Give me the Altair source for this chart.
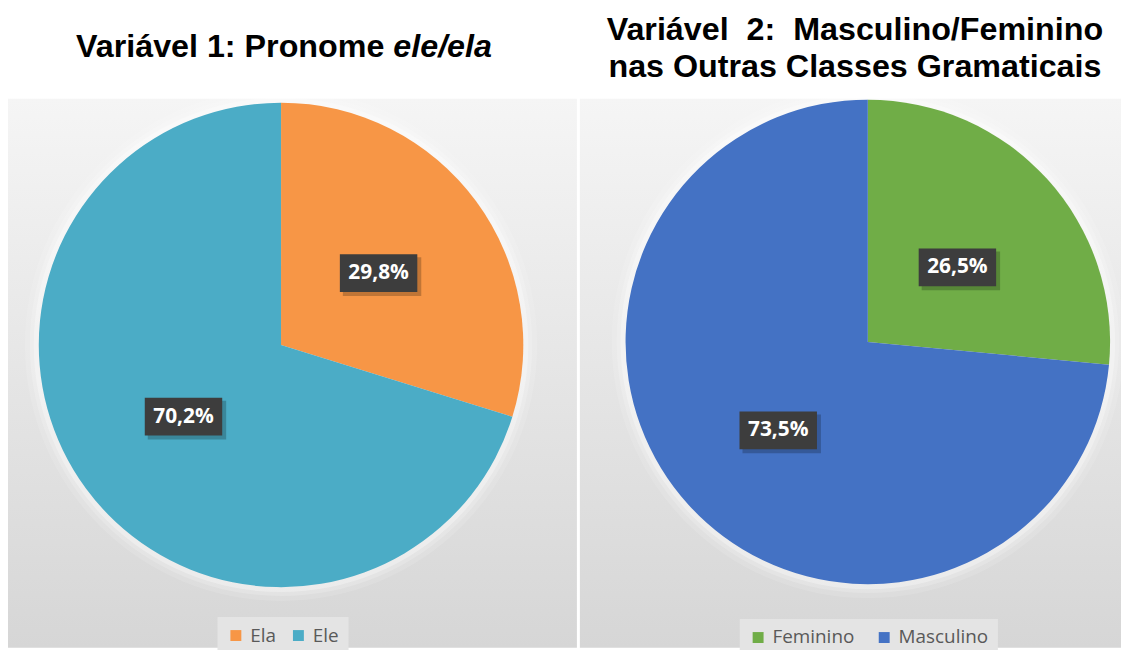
import altair as alt
import pandas as pd
import numpy as np

# ---------------- data ----------------
left_cats = ["Ela", "Ele"]
left_vals = [29.8, 70.2]
left_labels = ["29,8%", "70,2%"]
left_colors = ["#F79646", "#4BACC6"]

right_cats = ["Feminino", "Masculino"]
right_vals = [26.5, 73.5]
right_labels = ["26,5%", "73,5%"]
right_colors = ["#70AD47", "#4472C4"]

title_left_main = "Variável 1: Pronome"
title_left_italic = "ele/ela"
title_right = ["Variável\u00a0 2:\u00a0 Masculino/Feminino", "nas Outras Classes Gramaticais"]

# ---------------- layout ----------------
W, H = 1121, 642
R_PIE = 244
L_CX, L_CY = 275, 337
R_CX, R_CY = 866, 334
R_LABEL_DY = 7
LABEL_FRAC = 0.5
BOX_W, BOX_H = 78, 38
TITLE_SIZE = 32.5


def pie_df(cats, vals, labels, cx, cy):
    v = np.array(vals, dtype=float)
    start = np.concatenate([[0.0], np.cumsum(v)[:-1]])
    mid = (start + v / 2) / v.sum() * 2 * np.pi
    r = R_PIE * LABEL_FRAC
    return pd.DataFrame({
        "cat": cats,
        "value": vals,
        "label": labels,
        "ord": list(range(len(cats))),
        "lx": cx + r * np.sin(mid),
        "ly": cy - r * np.cos(mid),
    })


dfL = pie_df(left_cats, left_vals, left_labels, L_CX, L_CY)
dfR = pie_df(right_cats, right_vals, right_labels, R_CX, R_CY + R_LABEL_DY)
dummy = pd.DataFrame({"d": [0]})

grad = alt.LinearGradient(
    gradient="linear",
    stops=[alt.GradientStop(color="#f5f5f5", offset=0),
           alt.GradientStop(color="#d6d6d6", offset=1)],
    x1=0, x2=0, y1=0, y2=1,
)

panelL = alt.Chart(dummy).mark_rect(fill=grad).encode(
    x=alt.value(0), x2=alt.value(573), y=alt.value(89), y2=alt.value(H))
panelR = alt.Chart(dummy).mark_rect(fill=grad).encode(
    x=alt.value(576), x2=alt.value(W), y=alt.value(89), y2=alt.value(H))


def glow(cx, cy):
    layers = []
    for extra, op in [(14, 0.12), (9, 0.18), (5, 0.3)]:
        layers.append(
            alt.Chart(dummy).mark_arc(radius=R_PIE + extra, theta=0, theta2=6.2832,
                                      color="white", opacity=op)
            .encode(x=alt.value(cx), y=alt.value(cy)))
    return layers


def legend(lx, ly, colpad):
    return alt.Legend(
        title=None, orient="none", legendX=lx, legendY=ly, direction="horizontal",
        symbolType="square", symbolSize=121, symbolStrokeWidth=0,
        labelFontSize=19, labelFont="Open Sans", labelColor="#595959",
        labelOffset=5, columnPadding=colpad, padding=9, fillColor="#e4e4e4",
    )


def arc_layer(df, cats, colors, cx, cy, lx, ly, colpad):
    return alt.Chart(df).mark_arc(radius=R_PIE).encode(
        theta=alt.Theta("value:Q", stack=True),
        color=alt.Color("cat:N", sort=cats,
                        scale=alt.Scale(domain=cats, range=colors),
                        legend=legend(lx, ly, colpad)),
        order=alt.Order("ord:Q"),
        x=alt.value(cx), y=alt.value(cy),
    )


def label_layers(df):
    base = alt.Chart(df).transform_calculate(
        bx1=f"datum.lx - {BOX_W / 2}", bx2=f"datum.lx + {BOX_W / 2}",
        by1=f"datum.ly - {BOX_H / 2}", by2=f"datum.ly + {BOX_H / 2}",
        sx1=f"datum.lx - {BOX_W / 2} + 3", sx2=f"datum.lx + {BOX_W / 2} + 4",
        sy1=f"datum.ly - {BOX_H / 2} + 3", sy2=f"datum.ly + {BOX_H / 2} + 4",
    )
    shadow = base.mark_rect(color="black", opacity=0.22).encode(
        x=alt.X("sx1:Q", scale=None, axis=None), x2="sx2:Q",
        y=alt.Y("sy1:Q", scale=None, axis=None), y2="sy2:Q")
    box = base.mark_rect(color="#3d3d3d").encode(
        x=alt.X("bx1:Q", scale=None, axis=None), x2="bx2:Q",
        y=alt.Y("by1:Q", scale=None, axis=None), y2="by2:Q")
    txt = base.mark_text(font="Open Sans", fontWeight="bold", fontSize=21,
                         color="white", align="center", baseline="middle").encode(
        x=alt.X("lx:Q", scale=None, axis=None),
        y=alt.Y("ly:Q", scale=None, axis=None),
        text="label:N")
    return [shadow, box, txt]


# titles
tl_center = 277
tl_total = 12.95 * TITLE_SIZE
tl_split = tl_center - tl_total / 2 + 9.893 * TITLE_SIZE
title_l1 = alt.Chart(dummy).mark_text(
    font="Liberation Sans", fontWeight="bold", fontSize=TITLE_SIZE, color="black",
    align="right", baseline="middle").encode(
    x=alt.value(tl_split - 0.278 * TITLE_SIZE), y=alt.value(37),
    text=alt.value(title_left_main))
title_l2 = alt.Chart(dummy).mark_text(
    font="Liberation Sans", fontWeight="bold", fontStyle="italic", fontSize=TITLE_SIZE,
    color="black", align="left", baseline="middle").encode(
    x=alt.value(tl_split), y=alt.value(37), text=alt.value(title_left_italic))
title_r = alt.Chart(dummy).mark_text(
    font="Liberation Sans", fontWeight="bold", fontSize=TITLE_SIZE, color="black",
    align="center", baseline="middle", lineHeight=37).encode(
    x=alt.value(853), y=alt.value(20), text=alt.value(title_right))

layers = (
    [panelL, panelR]
    + glow(L_CX, L_CY) + glow(R_CX, R_CY)
    + [arc_layer(dfL, left_cats, left_colors, L_CX, L_CY, 211, 611, 13),
       arc_layer(dfR, right_cats, right_colors, R_CX, R_CY, 737, 613, 20)]
    + label_layers(dfL) + label_layers(dfR)
    + [title_l1, title_l2, title_r]
)

chart = alt.layer(*layers).resolve_scale(
    color="independent", theta="independent"
).properties(
    width=W, height=H, padding=0, autosize="none", background="white"
).configure_view(strokeWidth=0)

chart.save("out.html", embed_options={"renderer": "svg", "actions": False})
